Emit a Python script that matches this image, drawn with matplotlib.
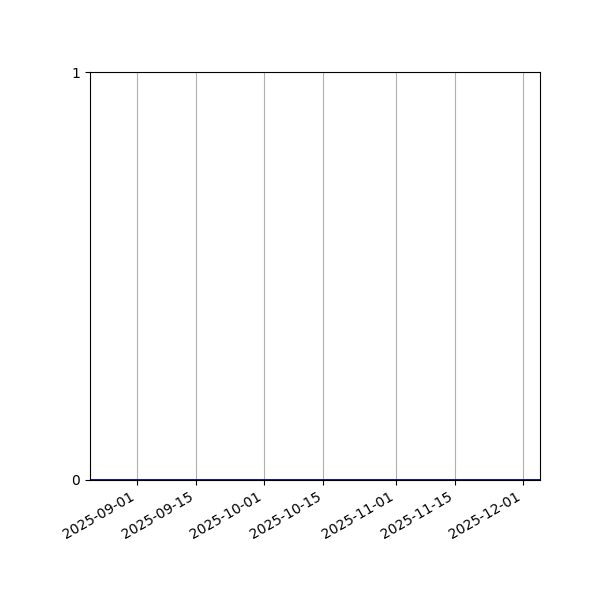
import matplotlib
matplotlib.use("Agg")
import matplotlib.pyplot as plt
import matplotlib.dates as mdates
import pandas as pd

dates = ['2025-08-21', '2025-09-15', '2025-10-15', '2025-11-15', '2025-12-05']
values = [0, 0, 0, 0, 0]


def main():
    x = pd.to_datetime(dates)
    fig, ax = plt.subplots(figsize=(6, 6), dpi=100)
    ax.plot(x, values, color='#00008b', linewidth=2)
    ax.set_xlim(x.min(), x.max())
    ax.set_ylim(0, 1)
    ax.set_yticks([0, 1])
    ax.xaxis.set_major_formatter(mdates.DateFormatter('%Y-%m-%d'))
    ax.grid(axis='x')
    fig.autofmt_xdate()
    fig.subplots_adjust(left=0.15, right=0.9, top=0.88, bottom=0.2)
    fig.savefig('out.png')


if __name__ == '__main__':
    main()
